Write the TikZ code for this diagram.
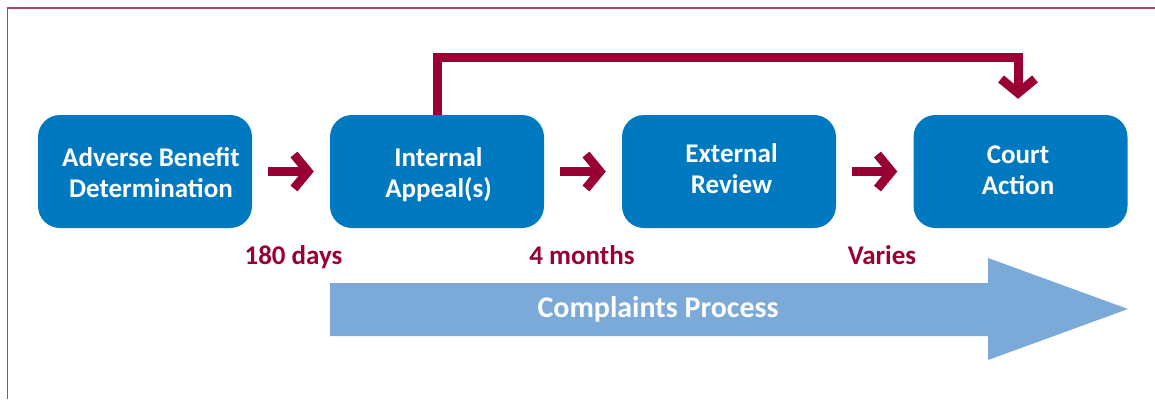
\documentclass[tikz,border=0pt]{standalone}
\usepackage{fontspec}
\setmainfont{Carlito}
\usetikzlibrary{arrows.meta}
\definecolor{boxblue}{HTML}{0079C1}
\definecolor{maroon}{HTML}{990033}
\definecolor{lightblue}{HTML}{7BAAD9}
\definecolor{framecol}{HTML}{B34466}
\tikzset{
  stepbox/.style={fill=boxblue, draw=none, rounded corners=22pt, minimum width=214pt, minimum height=113pt, inner sep=0pt},
  boxtext/.style={text=white, font=\bfseries\fontsize{27}{31}\selectfont, align=center, anchor=base, inner sep=0pt},
  timelabel/.style={text=maroon, font=\bfseries\fontsize{27}{31}\selectfont, anchor=base, inner sep=0pt},
  conn/.style={draw=maroon, line width=9pt, -{Straight Barb[length=14pt,width=34pt]}},
}
\begin{document}
\begin{tikzpicture}[x=1pt,y=-1pt]
\useasboundingbox (0,0) rectangle (1155,399);
% frame
\draw[framecol, line width=1.1pt] (7.5,399) -- (7.5,8) -- (1155,8);
% boxes
\node[stepbox] (b1) at (145,171.5) {};
\node[stepbox] (b2) at (437,171.5) {};
\node[stepbox] (b3) at (729,171.5) {};
\node[stepbox] (b4) at (1020.5,171.5) {};
\node[boxtext] (t1) at ([xshift=6pt,yshift=-25.5pt]b1.center) {Adverse Benefit\\Determination};
\node[boxtext] (t2) at ([xshift=1.5pt,yshift=-25.5pt]b2.center) {Internal\\Appeal(s)};
\node[boxtext] (t3) at ([xshift=2.5pt,yshift=-22pt]b3.center) {External\\Review};
\node[boxtext] (t4) at ([xshift=-2.5pt,yshift=-22.5pt]b4.center) {Court\\Action};
% connectors
\draw[conn, shorten <=16pt, shorten >=16pt] (b1.east) -- (b2.west);
\draw[conn, shorten <=16pt, shorten >=16pt] (b2.east) -- (b3.west);
\draw[conn, shorten <=16pt, shorten >=16pt] (b3.east) -- (b4.west);
\draw[conn, shorten >=16pt] (b2.north) -- ++(0,-57) -| ([xshift=-2.5pt]b4.north);
% time labels
\node[timelabel] (l1) at (293.5,264) {180 days};
\node[timelabel] (l2) at (582,264) {4 months};
\node[timelabel] (l3) at (882,264) {Varies};
% big arrow
\fill[lightblue] (330,283) -- (988,283) -- (988,258) -- (1128,309) -- (988,360) -- (988,336) -- (330,336) -- cycle;
\node[text=white, font=\bfseries\fontsize{30}{34}\selectfont, anchor=base, inner sep=0pt] (cp) at (658,317) {Complaints Process};
\end{tikzpicture}
\end{document}
